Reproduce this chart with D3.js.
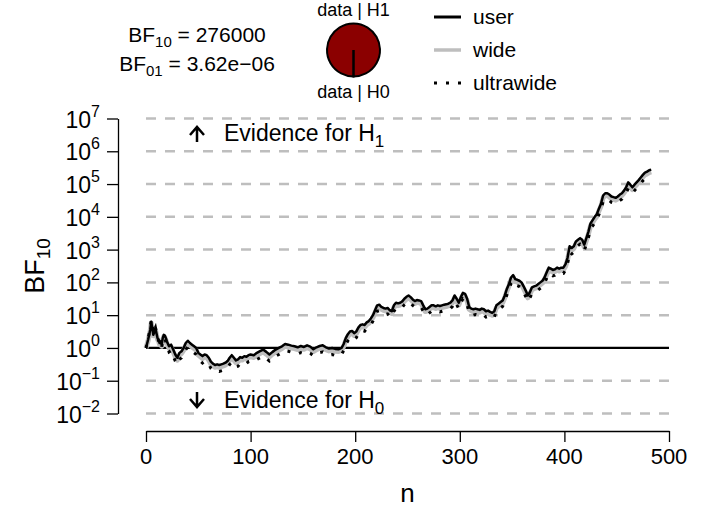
<!DOCTYPE html>
<html>
<head>
<meta charset="utf-8">
<script src="https://cdn.jsdelivr.net/npm/d3@7"></script>
<style>
  body { margin: 0; background: #fff; }
  svg text { font-family: "Liberation Sans", Arial, Helvetica, sans-serif; fill: #000; }
</style>
</head>
<body>
<div id="my_dataviz"></div>
<script>

/*******************************************************************************************
										Data
*******************************************************************************************/

// sample size n for each point of the sequential analysis
var nValues = [0,2,4,5,6,7,8,9,10,11,12,13,14,15,16,17,18,19,20,22,24,26,28,30,32,34,36,38,40,42,44,46,48,50,
  52,54,56,58,60,62,64,66,68,70,72,74,76,78,80,82,84,86,88,90,92,94,96,98,100,103,106,109,112,115,118,121,124,127,
  130,133,136,139,142,145,148,151,154,157,160,163,166,169,172,175,178,181,184,187,189,191,193,195,197,199,201,203,
  205,207,209,211,213,215,217,219,221,223,225,227,229,231,233,235,237,239,241,243,245,247,249,251,253,255,257,259,
  261,263,265,267,269,271,273,275,277,279,281,283,285,287,289,291,293,295,297,299,301,303,305,307,309,311,313,315,
  317,319,321,323,325,327,329,331,333,335,337,339,341,343,345,347,349,351,353,355,357,359,361,363,365,367,369,371,
  373,375,377,379,381,383,385,387,389,391,393,395,397,399,401,403,405,407,409,411,413,415,417,419,421,423,425,427,
  429,431,433,435,437,439,441,443,445,447,449,451,453,455,457,459,461,463,465,467,469,471,473,475,477,479,481,483];

// log10(BF10), user prior
var userLogBF = [0,0.25,0.55,0.8,0.6,0.4,0.5,0.6,0.45,0.3,0.25,0.15,0.2,0.1,0.3,0.4,0.38,0.3,0.2,0.05,0.1,-0.05,-0.2,-0.3,
  -0.15,-0.1,0,0.15,0.22,0.15,0.1,0.05,0,-0.15,-0.2,-0.25,-0.2,-0.22,-0.3,-0.42,-0.48,-0.52,-0.5,-0.52,-0.5,-0.48,-0.45,
  -0.4,-0.3,-0.22,-0.3,-0.38,-0.35,-0.28,-0.3,-0.25,-0.27,-0.22,-0.2,-0.22,-0.15,-0.1,-0.05,-0.12,-0.2,-0.12,-0.05,0,
  0.05,0.12,0.1,0.07,0.05,0.02,0.06,0.03,0.08,0.04,-0.04,0.02,0.06,0.08,0.02,-0.02,0,-0.03,-0.04,0,0.12,0.3,0.42,0.5,
  0.52,0.45,0.5,0.62,0.7,0.72,0.7,0.78,0.82,0.9,1.0,1.15,1.3,1.32,1.25,1.22,1.2,1.22,1.15,1.12,1.3,1.38,1.36,1.38,1.42,
  1.5,1.56,1.6,1.55,1.48,1.43,1.46,1.45,1.43,1.3,1.18,1.2,1.25,1.3,1.3,1.27,1.3,1.28,1.3,1.32,1.33,1.35,1.38,1.45,1.6,
  1.5,1.38,1.55,1.68,1.65,1.5,1.25,1.2,1.18,1.2,1.18,1.16,1.2,1.18,1.12,1.14,1.1,1.07,1.12,1.3,1.35,1.4,1.45,1.6,1.8,
  1.95,2.15,2.22,2.1,2.08,2.05,2.0,1.88,1.75,1.6,1.7,1.85,1.88,1.9,1.95,2.0,2.05,2.15,2.3,2.45,2.42,2.38,2.4,2.45,2.42,
  2.45,2.45,2.55,2.75,3.1,3.05,3.1,3.25,3.3,3.35,3.3,3.15,3.35,3.55,3.8,3.9,4.0,4.08,4.25,4.4,4.65,4.72,4.72,4.68,4.62,
  4.6,4.58,4.62,4.68,4.72,4.8,4.9,5.05,4.98,4.9,4.98,5.05,5.12,5.2,5.28,5.35,5.38,5.42,5.44];

// log10(BF10), wide prior
var wideLogBF = [0,0.22,0.52,0.76,0.57,0.37,0.47,0.56,0.41,0.26,0.21,0.1,0.15,0.05,0.25,0.35,0.32,0.24,0.14,-0.01,0.03,
  -0.12,-0.27,-0.37,-0.22,-0.17,-0.07,0.08,0.15,0.08,0.03,-0.02,-0.07,-0.22,-0.27,-0.32,-0.27,-0.29,-0.37,-0.49,-0.55,
  -0.59,-0.57,-0.59,-0.57,-0.55,-0.52,-0.47,-0.37,-0.29,-0.37,-0.45,-0.42,-0.35,-0.37,-0.32,-0.34,-0.29,-0.27,-0.29,
  -0.22,-0.17,-0.12,-0.19,-0.27,-0.19,-0.12,-0.07,-0.02,0.05,0.03,0,-0.02,-0.05,-0.01,-0.04,0.01,-0.03,-0.11,-0.05,
  -0.01,0.01,-0.05,-0.09,-0.07,-0.1,-0.11,-0.07,0.05,0.23,0.35,0.43,0.45,0.38,0.43,0.55,0.63,0.65,0.63,0.71,0.75,0.83,
  0.93,1.08,1.23,1.25,1.18,1.15,1.13,1.15,1.08,1.05,1.23,1.31,1.29,1.31,1.35,1.43,1.49,1.53,1.48,1.41,1.36,1.39,1.38,
  1.36,1.23,1.11,1.13,1.18,1.23,1.23,1.2,1.23,1.21,1.23,1.25,1.26,1.28,1.31,1.38,1.53,1.43,1.31,1.48,1.61,1.58,1.43,
  1.18,1.13,1.11,1.13,1.11,1.09,1.13,1.11,1.05,1.07,1.03,1.0,1.05,1.23,1.28,1.33,1.38,1.53,1.73,1.88,2.08,2.15,2.03,
  2.01,1.98,1.93,1.81,1.68,1.53,1.63,1.78,1.81,1.83,1.88,1.93,1.98,2.08,2.23,2.38,2.35,2.31,2.33,2.38,2.35,2.38,2.38,
  2.48,2.68,3.03,2.98,3.03,3.18,3.23,3.28,3.23,3.08,3.28,3.48,3.73,3.83,3.93,4.01,4.18,4.33,4.58,4.65,4.65,4.61,4.55,
  4.53,4.51,4.55,4.61,4.65,4.73,4.83,4.98,4.91,4.83,4.91,4.98,5.05,5.13,5.21,5.28,5.31,5.35,5.37];

// log10(BF10), ultrawide prior
var ultrawideLogBF = [0,0.28,0.6,0.86,0.66,0.45,0.55,0.62,0.46,0.3,0.22,0.1,0.14,0.02,0.22,0.32,0.28,0.18,0.06,-0.12,
  -0.08,-0.25,-0.4,-0.5,-0.35,-0.3,-0.2,-0.05,0.03,-0.05,-0.1,-0.15,-0.2,-0.36,-0.4,-0.46,-0.4,-0.43,-0.5,-0.62,-0.68,
  -0.72,-0.7,-0.72,-0.7,-0.68,-0.66,-0.6,-0.5,-0.43,-0.5,-0.58,-0.56,-0.48,-0.5,-0.45,-0.47,-0.42,-0.4,-0.42,-0.35,-0.3,
  -0.25,-0.32,-0.4,-0.32,-0.25,-0.2,-0.15,-0.08,-0.1,-0.13,-0.15,-0.18,-0.14,-0.17,-0.12,-0.16,-0.24,-0.18,-0.14,-0.12,
  -0.18,-0.22,-0.2,-0.23,-0.24,-0.2,-0.08,0.1,0.22,0.3,0.32,0.26,0.31,0.43,0.51,0.53,0.51,0.59,0.63,0.71,0.82,0.97,1.12,
  1.14,1.07,1.04,1.02,1.04,0.97,0.94,1.12,1.2,1.18,1.2,1.24,1.32,1.38,1.42,1.37,1.3,1.25,1.28,1.27,1.25,1.12,1.0,1.02,
  1.07,1.12,1.12,1.09,1.12,1.1,1.12,1.14,1.15,1.17,1.2,1.27,1.42,1.32,1.2,1.37,1.5,1.47,1.32,1.07,1.02,1.0,1.02,1.0,
  0.98,1.02,1.0,0.94,0.96,0.92,0.89,0.94,1.12,1.17,1.22,1.27,1.42,1.62,1.77,1.97,2.04,1.92,1.9,1.87,1.82,1.7,1.57,1.42,
  1.52,1.67,1.7,1.72,1.77,1.82,1.87,1.97,2.12,2.27,2.24,2.2,2.22,2.27,2.24,2.27,2.27,2.37,2.57,2.92,2.87,2.92,3.07,3.12,
  3.17,3.12,2.97,3.17,3.37,3.62,3.72,3.82,3.9,4.07,4.22,4.47,4.54,4.54,4.5,4.44,4.42,4.4,4.44,4.5,4.54,4.62,4.72,4.87,
  4.8,4.72,4.8,4.87,4.94,5.02,5.1,5.17,5.2,5.24,5.26];

var xTicks = [0, 100, 200, 300, 400, 500];
var yTickExps = [-2, -1, 0, 1, 2, 3, 4, 5, 6, 7];

var legendNames = ["user", "wide", "ultrawide"];
var bf10Text = "276000";
var bf01Text = "3.62e\u221206";
var pieValues = [276000 / 276001, 1 / 276001];   // p(H1|data), p(H0|data)


/*******************************************************************************************
										Plot
*******************************************************************************************/

var width = 715, height = 514;
var svg = d3.select("#my_dataviz").append("svg")
	.attr("width", width)
	.attr("height", height);

var x = d3.scaleLinear().domain([0, 500]).range([146, 669]);
var y = d3.scaleLog().domain([1e-2, 1e7]).range([413.5, 118.5]);

// gridlines, 10^0 is drawn solid
svg.selectAll(".grid")
	.data(yTickExps.filter(function (e) { return e !== 0; }))
	.enter().append("line")
	.attr("x1", x(0)).attr("x2", x(500))
	.attr("y1", function (e) { return y(Math.pow(10, e)); })
	.attr("y2", function (e) { return y(Math.pow(10, e)); })
	.attr("stroke", "#bebebe")
	.attr("stroke-width", 2.5)
	.attr("stroke-dasharray", "10,9");

svg.append("line")
	.attr("x1", x(0)).attr("x2", x(500))
	.attr("y1", y(1)).attr("y2", y(1))
	.attr("stroke", "#000")
	.attr("stroke-width", 2.2);

// y axis
var yAxis = svg.append("g")
	.attr("transform", "translate(118,0)")
	.call(d3.axisLeft(y)
		.tickValues(yTickExps.map(function (e) { return Math.pow(10, e); }))
		.tickSize(11).tickSizeOuter(0).tickFormat(""));
yAxis.selectAll("path, line").attr("stroke", "#000").attr("stroke-width", 1.3);

var yLab = svg.selectAll(".ylab")
	.data(yTickExps)
	.enter().append("text")
	.attr("x", 100)
	.attr("y", function (e) { return y(Math.pow(10, e)) + 9; })
	.attr("text-anchor", "end")
	.style("font-size", "23px");
yLab.append("tspan").text("10");
yLab.append("tspan")
	.attr("dy", -11)
	.style("font-size", "16px")
	.text(function (e) { return e < 0 ? "\u2212" + (-e) : String(e); });

// x axis
var xAxis = svg.append("g")
	.attr("transform", "translate(0,431)")
	.call(d3.axisBottom(x).tickValues(xTicks).tickSize(11).tickSizeOuter(0).tickFormat(""));
xAxis.selectAll("path, line").attr("stroke", "#000").attr("stroke-width", 1.3);

svg.selectAll(".xlab")
	.data(xTicks)
	.enter().append("text")
	.attr("x", function (d) { return x(d); })
	.attr("y", 464)
	.attr("text-anchor", "middle")
	.style("font-size", "22px")
	.text(function (d) { return d; });

// axis titles
svg.append("text")
	.attr("x", x(250)).attr("y", 502)
	.attr("text-anchor", "middle")
	.style("font-size", "26px")
	.text("n");

var yTitle = svg.append("text")
	.attr("transform", "translate(44,266) rotate(-90)")
	.attr("text-anchor", "middle")
	.style("font-size", "27px");
yTitle.append("tspan").text("BF");
yTitle.append("tspan").attr("dy", 6).style("font-size", "19px").text("10");


/************************ the three robustness lines *************************/
function make_points(values) {
	var pts = [];
	for (var i = 0; i < nValues.length; i++) {
		pts.push([nValues[i], Math.pow(10, values[i])]);
	}
	return pts;
}

var line = d3.line()
	.x(function (d) { return x(d[0]); })
	.y(function (d) { return y(d[1]); });

svg.append("path")
	.datum(make_points(wideLogBF))
	.attr("d", line)
	.attr("fill", "none")
	.attr("stroke", "#bebebe")
	.attr("stroke-width", 5)
	.attr("stroke-linejoin", "round");

svg.append("path")
	.datum(make_points(ultrawideLogBF))
	.attr("d", line)
	.attr("fill", "none")
	.attr("stroke", "#000")
	.attr("stroke-width", 3)
	.attr("stroke-dasharray", "3,9");

svg.append("path")
	.datum(make_points(userLogBF))
	.attr("d", line)
	.attr("fill", "none")
	.attr("stroke", "#000")
	.attr("stroke-width", 2.5)
	.attr("stroke-linejoin", "round");


/************************ evidence arrows *************************/
function arrow(x0, yFrom, yTo) {
	var dir = yTo < yFrom ? 1 : -1;
	svg.append("path")
		.attr("d", "M" + x0 + "," + yFrom + "L" + x0 + "," + yTo +
			"M" + (x0 - 7) + "," + (yTo + dir * 8) + "L" + x0 + "," + yTo + "L" + (x0 + 7) + "," + (yTo + dir * 8))
		.attr("fill", "none")
		.attr("stroke", "#000")
		.attr("stroke-width", 2.5);
}
arrow(197, 142, 127);
arrow(197, 392, 407);

var ev1 = svg.append("text").attr("x", 224).attr("y", 141).style("font-size", "23px");
ev1.append("tspan").text("Evidence for H");
ev1.append("tspan").attr("dy", 6).style("font-size", "17px").text("1");

var ev0 = svg.append("text").attr("x", 224).attr("y", 408).style("font-size", "23px");
ev0.append("tspan").text("Evidence for H");
ev0.append("tspan").attr("dy", 6).style("font-size", "17px").text("0");


/************************ BF text at the top *************************/
function bf_label(yPos, sub, value) {
	var t = svg.append("text").attr("x", 197).attr("y", yPos)
		.attr("text-anchor", "middle").style("font-size", "21px");
	t.append("tspan").text("BF");
	t.append("tspan").attr("dy", 5).style("font-size", "15px").text(sub);
	t.append("tspan").attr("dy", -5).text(" = " + value);
}
bf_label(42, "10", bf10Text);
bf_label(71, "01", bf01Text);


/************************ probability wheel *************************/
var pie = d3.pie().sort(null).startAngle(Math.PI).endAngle(3 * Math.PI);
var arc = d3.arc().innerRadius(0).outerRadius(26.5);
svg.append("g")
	.attr("transform", "translate(353.5,50)")
	.selectAll("path")
	.data(pie(pieValues))
	.enter().append("path")
	.attr("d", arc)
	.attr("fill", function (d, i) { return i === 0 ? "#8b0000" : "#fff"; })
	.attr("stroke", "#000")
	.attr("stroke-width", 2);

svg.append("text").attr("x", 353.5).attr("y", 16)
	.attr("text-anchor", "middle").style("font-size", "18px").text("data | H1");
svg.append("text").attr("x", 353.5).attr("y", 98)
	.attr("text-anchor", "middle").style("font-size", "18px").text("data | H0");


/************************ legend *************************/
var legendY = [17, 50, 83];
var lg = svg.selectAll(".legend")
	.data(legendNames)
	.enter().append("g")
	.attr("transform", function (d, i) { return "translate(0," + legendY[i] + ")"; });
lg.append("line")
	.attr("x1", 434).attr("x2", 461)
	.attr("stroke", function (d, i) { return i === 1 ? "#bebebe" : "#000"; })
	.attr("stroke-width", function (d, i) { return i === 1 ? 3.5 : 3; })
	.attr("stroke-dasharray", function (d, i) { return i === 2 ? "3,9" : null; });
lg.append("text")
	.attr("x", 473).attr("y", 7)
	.style("font-size", "21px")
	.text(function (d) { return d; });

</script>
</body>
</html>
